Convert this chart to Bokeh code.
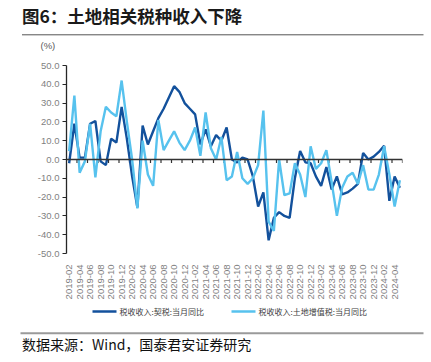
import numpy as np
from bokeh.plotting import figure
from bokeh.layouts import column, row
from bokeh.models import Range1d, FixedTicker, NumeralTickFormatter, Span
from bokeh.core.properties import value
from bokeh.embed import file_html
from bokeh.resources import INLINE

# ---- data ----
months = [f"{y}-{m:02d}" for y in range(2019, 2025) for m in range(1, 13)]
months = months[months.index("2019-02"):months.index("2024-05") + 1]

# 税收收入:契税:当月同比 (%)
qishui = [-2, 19, 1, 1, 19, 20.5, -1, -3, 11, 9,
          28, 11, -9, -25.5, 18, 8, 15, 22, 27, 33,
          39, 36, 30, 27, 24, 8, 16, 7, 13, 10,
          17, 0, -1.5, 1, 0, -9, -25, -17.5, -43, -31,
          -28, -30, -31, -10, 4.5, -1.5, -2, -9, -14, -4,
          -16, -9, -18.5, -17.5, -15.5, -13, 3.5, 0, 1.5, 4,
          7.3, -22, -9, -15]
# 税收收入:土地增值税:当月同比 (%)
tudi = [4.5, 34, -7, -1, 19, -9.5, 15, 28, 25, 23,
        42, 20, 0, -26, 10, -8, -14, 21, 5, 10,
        15, 9, 5, 10, 17, 2, 25, 6, 0, 12,
        -11, -9, 4, -10, -13, -10, -3, 26, -33, -38,
        0, -19, -18, -2, -8, -20, 7, -5, -2, 5,
        -12, -30, -15, -9, -7, -13, -3, -16, -16, -8,
        7, -8, -25, -11]

series_names = ["税收收入:契税:当月同比", "税收收入:土地增值税:当月同比"]
title_text = "图6：土地相关税种收入下降"
unit_text = "(%)"
source_text = "数据来源：Wind，国泰君安证券研究"
y_ticks = list(range(-50, 51, 10))

x = list(range(len(months)))
label_idx = x[::2]

DARK = "#13519C"
LIGHT = "#57C2EE"
SANS = "Liberation Sans"
CJK = "Noto Sans CJK SC"
W = 425


def blank(h):
    f = figure(width=W, height=h, output_backend="svg", toolbar_location=None,
               x_range=Range1d(0, W), y_range=Range1d(h, 0),
               x_axis_type=None, y_axis_type=None,
               min_border=0, min_border_left=0, min_border_right=0,
               min_border_top=0, min_border_bottom=0)
    f.outline_line_color = None
    f.grid.visible = False
    return f


# ---- header ----
top = blank(59)
top.text(x=[21.5], y=[15], text=[title_text], text_font=value(CJK),
         text_font_style="bold", text_font_size="17.5px", text_color="#1a1a1a",
         text_baseline="middle")
top.segment(x0=[21.5], y0=[34.3], x1=[423], y1=[34.3], line_color="#555555", line_width=1)
top.text(x=[40], y=[44.5], text=[unit_text], text_font=value(SANS),
         text_font_size="9.5px", text_color="#595959", text_baseline="middle")

# ---- main chart ----
p = figure(width=W, height=244, output_backend="svg", toolbar_location=None,
           x_range=Range1d(-0.5, len(months) - 0.5), y_range=Range1d(-50, 50),
           min_border_left=66, min_border_right=W - 66 - 336, min_border_top=6,
           min_border_bottom=50)
p.outline_line_color = None
p.grid.visible = False

yax = p.yaxis[0]
yax.ticker = FixedTicker(ticks=y_ticks)
yax.formatter = NumeralTickFormatter(format="0.0")
yax.major_label_text_font = SANS
yax.major_label_text_font_size = "9.5px"
yax.major_label_text_color = "#7f7f7f"
yax.axis_line_color = "#262626"
yax.axis_line_width = 1.3
yax.major_tick_line_color = "#262626"
yax.major_tick_out = 4
yax.major_tick_in = 0
yax.minor_tick_line_color = None
yax.major_label_standoff = 3

xax = p.xaxis[0]
xax.ticker = FixedTicker(ticks=label_idx)
xax.major_label_overrides = {i: months[i] for i in label_idx}
xax.major_label_orientation = np.pi / 2
xax.major_label_text_font = SANS
xax.major_label_text_font_size = "9.5px"
xax.major_label_text_color = "#7f7f7f"
xax.axis_line_color = None
xax.major_tick_line_color = None
xax.minor_tick_line_color = None
xax.major_label_standoff = 5

p.add_layout(Span(location=0, dimension="width", line_color="#333333", line_width=1.3))
tick_pos = [i + 1.5 for i in label_idx]
p.segment(x0=tick_pos, y0=[0] * len(tick_pos), x1=tick_pos, y1=[-1.9] * len(tick_pos),
          line_color="#333333", line_width=1.2)

p.line(x, qishui, line_color=DARK, line_width=2.4)
p.line(x, tudi, line_color=LIGHT, line_width=2.4)

# ---- footer: legend keys + source ----
bot = blank(52)
key_x = [92, 231]           # left edge of each legend key (px)
key_y = 8
bot.segment(x0=key_x, y0=[key_y] * 2, x1=[k + 24 for k in key_x], y1=[key_y] * 2,
            line_color=[DARK, LIGHT], line_width=2.6)
bot.text(x=[k + 27 for k in key_x], y=[key_y] * 2, text=series_names,
         text_font=value(CJK), text_font_size="8px", text_color="#404040",
         text_baseline="middle")
bot.segment(x0=[20], y0=[29.7], x1=[423], y1=[29.7], line_color="#9a9a9a", line_width=2)
bot.text(x=[21.5], y=[40.5], text=[source_text], text_font=value(CJK),
         text_font_size="14px", text_color="#111111", text_baseline="middle")

layout = column(row(top), row(p), row(bot), spacing=0)
open("out.html", "w").write(file_html(layout, INLINE))
